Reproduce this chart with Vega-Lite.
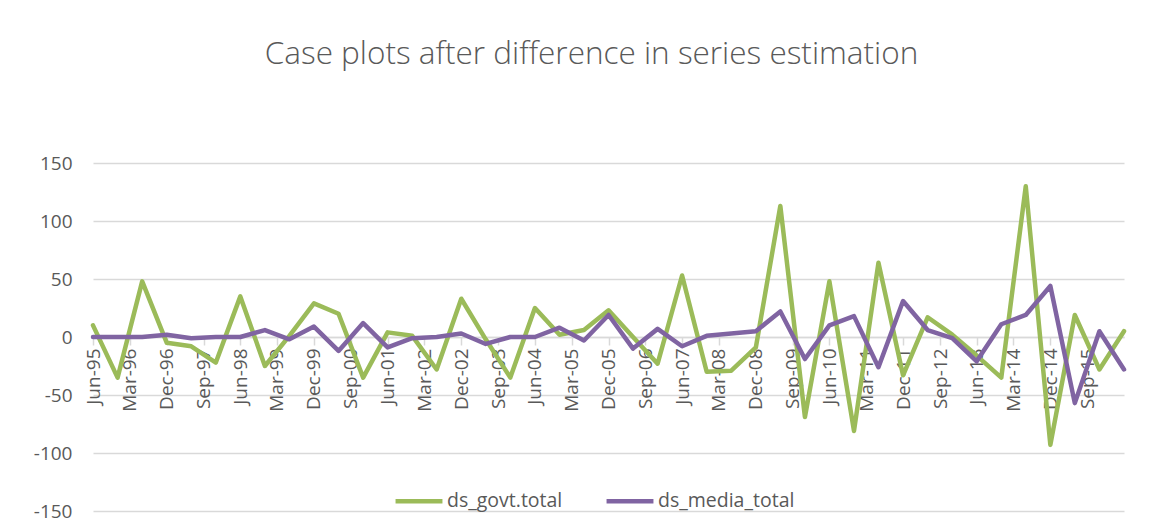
{
  "$schema": "https://vega.github.io/schema/vega-lite/v6.json",
  "autosize": "none",
  "padding": {"left": 93, "top": 163, "right": 47, "bottom": 10},
  "width": 1031,
  "height": 348,
  "background": "white",
  "title": {
    "text": "Case plots after difference in series estimation",
    "font": "Open Sans",
    "fontSize": 31.5,
    "fontWeight": 300,
    "color": "#595959",
    "anchor": "middle",
    "frame": "group",
    "dx": -17,
    "baseline": "bottom",
    "offset": 52
  },
  "config": {
    "view": {"stroke": null},
    "font": "Open Sans"
  },
  "data": {
    "values": [
      {"date": "1995-06-01", "series": "ds_govt.total", "value": 10},
      {"date": "1995-12-01", "series": "ds_govt.total", "value": -35},
      {"date": "1996-06-01", "series": "ds_govt.total", "value": 48},
      {"date": "1996-12-01", "series": "ds_govt.total", "value": -5},
      {"date": "1997-06-01", "series": "ds_govt.total", "value": -8},
      {"date": "1997-12-01", "series": "ds_govt.total", "value": -22},
      {"date": "1998-06-01", "series": "ds_govt.total", "value": 35},
      {"date": "1998-12-01", "series": "ds_govt.total", "value": -25},
      {"date": "1999-06-01", "series": "ds_govt.total", "value": 1},
      {"date": "1999-12-01", "series": "ds_govt.total", "value": 29},
      {"date": "2000-06-01", "series": "ds_govt.total", "value": 20},
      {"date": "2000-12-01", "series": "ds_govt.total", "value": -35},
      {"date": "2001-06-01", "series": "ds_govt.total", "value": 4},
      {"date": "2001-12-01", "series": "ds_govt.total", "value": 1},
      {"date": "2002-06-01", "series": "ds_govt.total", "value": -28},
      {"date": "2002-12-01", "series": "ds_govt.total", "value": 33},
      {"date": "2003-06-01", "series": "ds_govt.total", "value": -2},
      {"date": "2003-12-01", "series": "ds_govt.total", "value": -35},
      {"date": "2004-06-01", "series": "ds_govt.total", "value": 25},
      {"date": "2004-12-01", "series": "ds_govt.total", "value": 2},
      {"date": "2005-06-01", "series": "ds_govt.total", "value": 6},
      {"date": "2005-12-01", "series": "ds_govt.total", "value": 23},
      {"date": "2006-06-01", "series": "ds_govt.total", "value": 0},
      {"date": "2006-12-01", "series": "ds_govt.total", "value": -23},
      {"date": "2007-06-01", "series": "ds_govt.total", "value": 53},
      {"date": "2007-12-01", "series": "ds_govt.total", "value": -30},
      {"date": "2008-06-01", "series": "ds_govt.total", "value": -29},
      {"date": "2008-12-01", "series": "ds_govt.total", "value": -9},
      {"date": "2009-06-01", "series": "ds_govt.total", "value": 113},
      {"date": "2009-12-01", "series": "ds_govt.total", "value": -69},
      {"date": "2010-06-01", "series": "ds_govt.total", "value": 48},
      {"date": "2010-12-01", "series": "ds_govt.total", "value": -81},
      {"date": "2011-06-01", "series": "ds_govt.total", "value": 64},
      {"date": "2011-12-01", "series": "ds_govt.total", "value": -33},
      {"date": "2012-06-01", "series": "ds_govt.total", "value": 17},
      {"date": "2012-12-01", "series": "ds_govt.total", "value": 2},
      {"date": "2013-06-01", "series": "ds_govt.total", "value": -16},
      {"date": "2013-12-01", "series": "ds_govt.total", "value": -35},
      {"date": "2014-06-01", "series": "ds_govt.total", "value": 130},
      {"date": "2014-12-01", "series": "ds_govt.total", "value": -93},
      {"date": "2015-06-01", "series": "ds_govt.total", "value": 19},
      {"date": "2015-12-01", "series": "ds_govt.total", "value": -28},
      {"date": "2016-06-01", "series": "ds_govt.total", "value": 5},
      {"date": "1995-06-01", "series": "ds_media_total", "value": 0},
      {"date": "1995-12-01", "series": "ds_media_total", "value": 0},
      {"date": "1996-06-01", "series": "ds_media_total", "value": 0},
      {"date": "1996-12-01", "series": "ds_media_total", "value": 2},
      {"date": "1997-06-01", "series": "ds_media_total", "value": -1},
      {"date": "1997-12-01", "series": "ds_media_total", "value": 0},
      {"date": "1998-06-01", "series": "ds_media_total", "value": 0},
      {"date": "1998-12-01", "series": "ds_media_total", "value": 6},
      {"date": "1999-06-01", "series": "ds_media_total", "value": -2},
      {"date": "1999-12-01", "series": "ds_media_total", "value": 9},
      {"date": "2000-06-01", "series": "ds_media_total", "value": -12},
      {"date": "2000-12-01", "series": "ds_media_total", "value": 12},
      {"date": "2001-06-01", "series": "ds_media_total", "value": -9},
      {"date": "2001-12-01", "series": "ds_media_total", "value": -1},
      {"date": "2002-06-01", "series": "ds_media_total", "value": 0},
      {"date": "2002-12-01", "series": "ds_media_total", "value": 3},
      {"date": "2003-06-01", "series": "ds_media_total", "value": -6},
      {"date": "2003-12-01", "series": "ds_media_total", "value": 0},
      {"date": "2004-06-01", "series": "ds_media_total", "value": 0},
      {"date": "2004-12-01", "series": "ds_media_total", "value": 8},
      {"date": "2005-06-01", "series": "ds_media_total", "value": -3},
      {"date": "2005-12-01", "series": "ds_media_total", "value": 19},
      {"date": "2006-06-01", "series": "ds_media_total", "value": -10},
      {"date": "2006-12-01", "series": "ds_media_total", "value": 7},
      {"date": "2007-06-01", "series": "ds_media_total", "value": -8},
      {"date": "2007-12-01", "series": "ds_media_total", "value": 1},
      {"date": "2008-06-01", "series": "ds_media_total", "value": 3},
      {"date": "2008-12-01", "series": "ds_media_total", "value": 5},
      {"date": "2009-06-01", "series": "ds_media_total", "value": 22},
      {"date": "2009-12-01", "series": "ds_media_total", "value": -19},
      {"date": "2010-06-01", "series": "ds_media_total", "value": 10},
      {"date": "2010-12-01", "series": "ds_media_total", "value": 18},
      {"date": "2011-06-01", "series": "ds_media_total", "value": -26},
      {"date": "2011-12-01", "series": "ds_media_total", "value": 31},
      {"date": "2012-06-01", "series": "ds_media_total", "value": 6},
      {"date": "2012-12-01", "series": "ds_media_total", "value": -1},
      {"date": "2013-06-01", "series": "ds_media_total", "value": -21},
      {"date": "2013-12-01", "series": "ds_media_total", "value": 11},
      {"date": "2014-06-01", "series": "ds_media_total", "value": 19},
      {"date": "2014-12-01", "series": "ds_media_total", "value": 44},
      {"date": "2015-06-01", "series": "ds_media_total", "value": -57},
      {"date": "2015-12-01", "series": "ds_media_total", "value": 5},
      {"date": "2016-06-01", "series": "ds_media_total", "value": -28}
    ]
  },
  "mark": {"type": "line", "strokeWidth": 4.5, "strokeJoin": "round", "strokeCap": "round"},
  "encoding": {
    "x": {
      "field": "date",
      "type": "temporal",
      "scale": {
        "type": "utc",
        "domain": [
          {"year": 1995, "month": 6, "date": 1, "utc": true},
          {"year": 2016, "month": 6, "date": 1, "utc": true}
        ]
      },
      "axis": {
        "title": null,
        "labelExpr": "utcFormat(datum.value, '%b-%y')",
        "values": [
          {"year": 1995, "month": 6, "date": 1, "utc": true},
          {"year": 1996, "month": 3, "date": 1, "utc": true},
          {"year": 1996, "month": 12, "date": 1, "utc": true},
          {"year": 1997, "month": 9, "date": 1, "utc": true},
          {"year": 1998, "month": 6, "date": 1, "utc": true},
          {"year": 1999, "month": 3, "date": 1, "utc": true},
          {"year": 1999, "month": 12, "date": 1, "utc": true},
          {"year": 2000, "month": 9, "date": 1, "utc": true},
          {"year": 2001, "month": 6, "date": 1, "utc": true},
          {"year": 2002, "month": 3, "date": 1, "utc": true},
          {"year": 2002, "month": 12, "date": 1, "utc": true},
          {"year": 2003, "month": 9, "date": 1, "utc": true},
          {"year": 2004, "month": 6, "date": 1, "utc": true},
          {"year": 2005, "month": 3, "date": 1, "utc": true},
          {"year": 2005, "month": 12, "date": 1, "utc": true},
          {"year": 2006, "month": 9, "date": 1, "utc": true},
          {"year": 2007, "month": 6, "date": 1, "utc": true},
          {"year": 2008, "month": 3, "date": 1, "utc": true},
          {"year": 2008, "month": 12, "date": 1, "utc": true},
          {"year": 2009, "month": 9, "date": 1, "utc": true},
          {"year": 2010, "month": 6, "date": 1, "utc": true},
          {"year": 2011, "month": 3, "date": 1, "utc": true},
          {"year": 2011, "month": 12, "date": 1, "utc": true},
          {"year": 2012, "month": 9, "date": 1, "utc": true},
          {"year": 2013, "month": 6, "date": 1, "utc": true},
          {"year": 2014, "month": 3, "date": 1, "utc": true},
          {"year": 2014, "month": 12, "date": 1, "utc": true},
          {"year": 2015, "month": 9, "date": 1, "utc": true}
        ],
        "offset": -174,
        "grid": false,
        "domainColor": "#d9d9d9",
        "domainWidth": 1.5,
        "tickColor": "#d9d9d9",
        "tickWidth": 1.5,
        "tickSize": 8,
        "labelAngle": 270,
        "labelAlign": "right",
        "labelBaseline": "middle",
        "labelPadding": 3,
        "labelFontSize": 19,
        "labelColor": "#595959",
        "labelOverlap": false,
        "labelFlush": false
      }
    },
    "y": {
      "field": "value",
      "type": "quantitative",
      "scale": {"domain": [-150, 150], "nice": false, "zero": false},
      "axis": {
        "title": null,
        "values": [-150, -100, -50, 0, 50, 100, 150],
        "labelExpr": "'' + datum.value",
        "domain": false,
        "ticks": false,
        "grid": true,
        "gridColor": "#d9d9d9",
        "gridWidth": 1.5,
        "labelPadding": 21,
        "labelFontSize": 19,
        "labelColor": "#595959"
      }
    },
    "color": {
      "field": "series",
      "type": "nominal",
      "scale": {"domain": ["ds_govt.total", "ds_media_total"], "range": ["#9bbb59", "#8064a2"]},
      "legend": {
        "title": null,
        "orient": "none",
        "legendX": 300,
        "legendY": 312,
        "direction": "horizontal",
        "symbolType": "stroke",
        "symbolSize": 2200,
        "symbolStrokeWidth": 4.5,
        "labelFontSize": 19.5,
        "labelColor": "#595959",
        "labelOffset": 2,
        "columnPadding": 34
      }
    }
  }
}
